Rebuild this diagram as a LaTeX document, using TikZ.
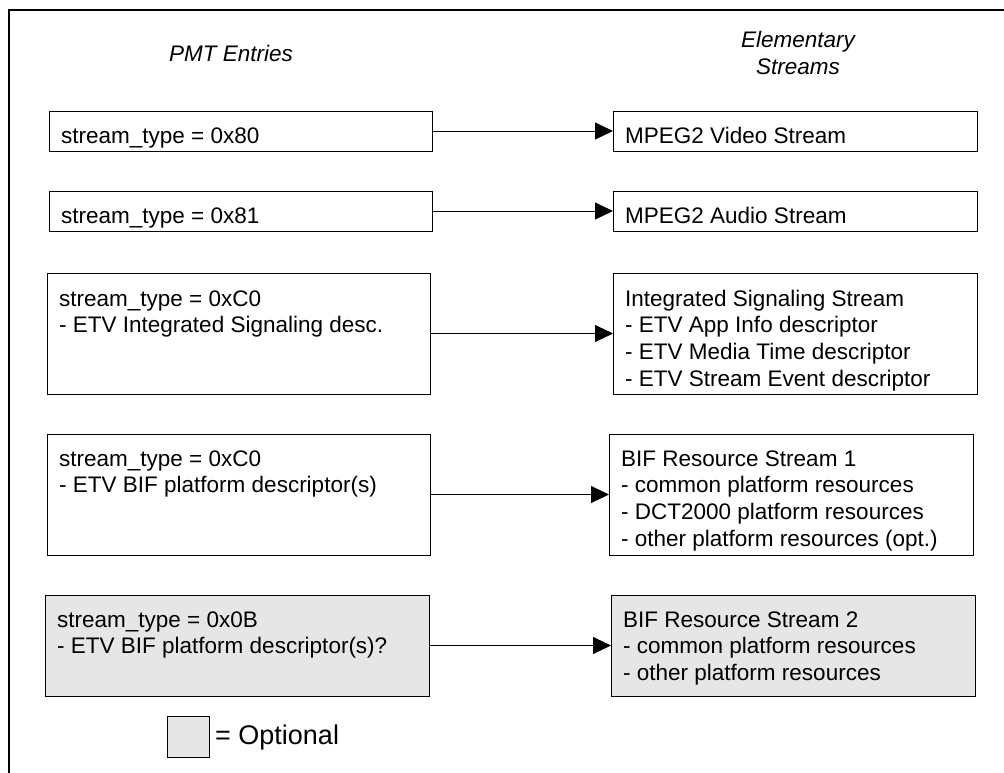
\documentclass[tikz,border=0pt]{standalone}
\usepackage{fontspec}
\setmainfont{Liberation Sans}
\usetikzlibrary{arrows.meta,shadows}
\definecolor{optgray}{RGB}{230,230,230}
\begin{document}
\begin{tikzpicture}[x=1pt,y=-1pt,
  box/.style={draw=black, line width=0.9pt, fill=white, anchor=north west, inner sep=0pt, outer sep=0pt,
    drop shadow={shadow xshift=0.9pt, shadow yshift=-0.9pt, fill=black!45, opacity=1}},
  optbox/.style={box, fill=optgray},
  txt/.style={anchor=north west, inner sep=0pt, align=left, font=\fontsize{22.5}{26.7}\selectfont},
  title/.style={inner sep=0pt, font=\fontsize{22.5}{27}\selectfont\itshape},
  conn/.style={line width=0.9pt, -{Triangle[length=18pt,width=17pt]}}]
\useasboundingbox (0,0) rectangle (1004,772);
\fill[white] (0,0) rectangle (1004,772);
\draw[line width=2pt] (1015,10) -- (9,10) -- (9,785);
% titles
\node[title, anchor=base] (pmt) at (231,61) {PMT Entries};
\node[title, anchor=north, align=center] (es) at (798,27) {\rule{0pt}{20pt}Elementary\\Streams};
% left boxes
\node[box, minimum width=383pt, minimum height=40pt] (l1) at (49,111) {};
\node[box, minimum width=383pt, minimum height=40pt] (l2) at (49,191) {};
\node[box, minimum width=383pt, minimum height=121pt] (l3) at (47,273) {};
\node[box, minimum width=383pt, minimum height=121pt] (l4) at (47,434) {};
\node[optbox, minimum width=384pt, minimum height=101pt] (l5) at (45,595) {};
% right boxes
\node[box, minimum width=364pt, minimum height=40pt] (r1) at (613,111) {};
\node[box, minimum width=364pt, minimum height=40pt] (r2) at (613,191) {};
\node[box, minimum width=364pt, minimum height=121pt] (r3) at (613,273) {};
\node[box, minimum width=364pt, minimum height=121pt] (r4) at (609,434) {};
\node[optbox, minimum width=364pt, minimum height=101pt] (r5) at (611,595) {};
% texts
\node[txt] (l1t) at (61,123) {\rule{0pt}{20pt}stream\_type = 0x80};
\node[txt] (l2t) at (61,203) {\rule{0pt}{20pt}stream\_type = 0x81};
\node[txt] (l3t) at (59,286) {\rule{0pt}{20pt}stream\_type = 0xC0\\- ETV Integrated Signaling desc.};
\node[txt] (l4t) at (59,446) {\rule{0pt}{20pt}stream\_type = 0xC0\\- ETV BIF platform descriptor(s)};
\node[txt] (l5t) at (57,607) {\rule{0pt}{20pt}stream\_type = 0x0B\\- ETV BIF platform descriptor(s)?};
\node[txt] (r1t) at (625,123) {\rule{0pt}{20pt}MPEG2 Video Stream};
\node[txt] (r2t) at (625,203) {\rule{0pt}{20pt}MPEG2 Audio Stream};
\node[txt] (r3t) at (625,286) {\rule{0pt}{20pt}Integrated Signaling Stream\\- ETV App Info descriptor\\- ETV Media Time descriptor\\- ETV Stream Event descriptor};
\node[txt] (r4t) at (621,446) {\rule{0pt}{20pt}BIF Resource Stream 1\\- common platform resources\\- DCT2000 platform resources\\- other platform resources (opt.)};
\node[txt] (r5t) at (623,607) {\rule{0pt}{20pt}BIF Resource Stream 2\\- common platform resources\\- other platform resources};
% connectors
\draw[conn] (l1) -- (r1);
\draw[conn] (l2) -- (r2);
\draw[conn] (l3) -- (r3);
\draw[conn] (l4) -- (r4);
\draw[conn] (l5) -- (r5);
% legend
\node[optbox, minimum width=42pt, minimum height=41pt] (leg) at (167,716) {};
\node[anchor=base west, inner sep=0pt, font=\fontsize{27}{32}\selectfont] (legt) at (215,744) {= Optional};
\end{tikzpicture}
\end{document}
